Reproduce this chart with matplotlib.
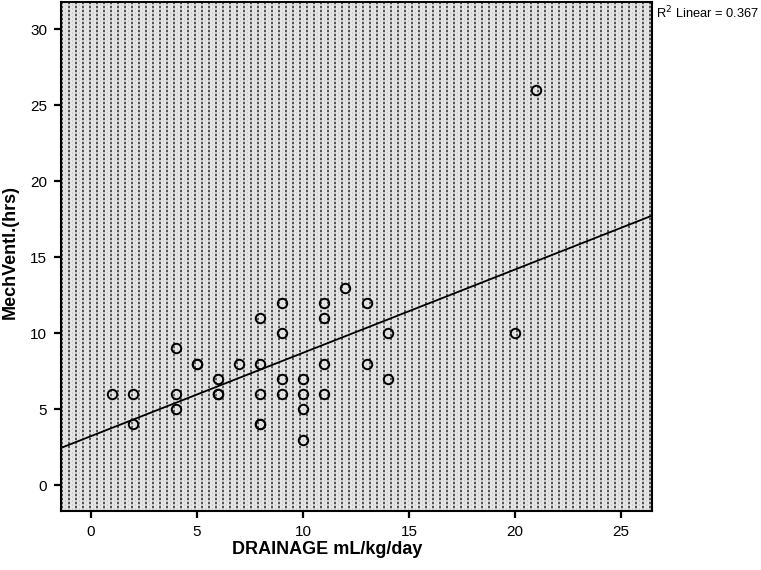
import numpy as np
import matplotlib
matplotlib.use("Agg")
import matplotlib.pyplot as plt

plt.rcParams['font.family'] = ['Liberation Sans', 'DejaVu Sans']

# drainage (mL/kg/day) vs mechanical ventilation (hrs)
drainage = [1, 2, 2, 4, 4, 4, 5, 5, 6, 6, 6, 7, 8, 8, 8, 8, 8, 9, 9, 9, 9,
            10, 10, 10, 10, 11, 11, 11, 11, 12, 13, 13, 14, 14, 20, 21]
mechvent = [6, 6, 4, 9, 6, 5, 8, 8, 7, 6, 6, 8, 11, 8, 6, 4, 4, 12, 10, 7, 6,
            7, 6, 5, 3, 12, 11, 8, 6, 13, 12, 8, 10, 7, 10, 26]
r2_text = "R$^2$ Linear = 0.367"
xticks = [0, 5, 10, 15, 20, 25]
yticks = [0, 5, 10, 15, 20, 25, 30]

x = np.array(drainage)
y = np.array(mechvent)
slope, intercept = np.polyfit(x, y, 1)

W, H = 761, 570
fig = plt.figure(figsize=(W / 100, H / 100), dpi=100)
left, bottom, aw, ah = 61, 59, 591, 509
ax = fig.add_axes([left / W, bottom / H, aw / W, ah / H])
ax.set_zorder(2)

xmin, xmax = -1.4, 26.45
ymin, ymax = -1.7, 31.8
ax.set_xlim(xmin, xmax)
ax.set_ylim(ymin, ymax)

# dotted grey background texture (pixel pattern behind the axes)
tex = np.full((ah, aw, 3), 0.90)
cols = np.arange(aw)
rows = np.arange(ah)
cmask = (cols % 7) < 2
rmask = (rows % 4) < 2
tex[np.ix_(rmask, cmask)] = 0.33
tex[np.ix_(~rmask, cmask)] = 0.78
mid = (cols % 7) == 4
tex[np.ix_(~rmask, mid)] = 0.80
fig.figimage(tex, xo=left, yo=bottom, origin='upper', zorder=0)
ax.patch.set_alpha(0)

xs = np.array([xmin, xmax])
ax.plot(xs, intercept + slope * xs, color='black', lw=1.3, zorder=3)
ax.plot(x, y, 'o', mfc='none', mec='black', ms=6.8, mew=1.4, zorder=4)

ax.set_xticks(xticks)
ax.set_yticks(yticks)
ax.tick_params(direction='out', length=5, width=1.6, labelsize=11, pad=5)
for s in ax.spines.values():
    s.set_linewidth(1.5)

fig.text(327 / W, 1 - 549 / H, "DRAINAGE mL/kg/day", fontsize=13,
         fontweight='bold', ha='center', va='center')
fig.text(10 / W, 1 - 252 / H, "MechVentl.(hrs)", fontsize=13,
         fontweight='bold', ha='center', va='center', rotation=90)

fig.text(656 / W, 1 - 13 / H, r2_text, fontsize=9.3, ha='left', va='center')

fig.savefig("out.png", dpi=100)
